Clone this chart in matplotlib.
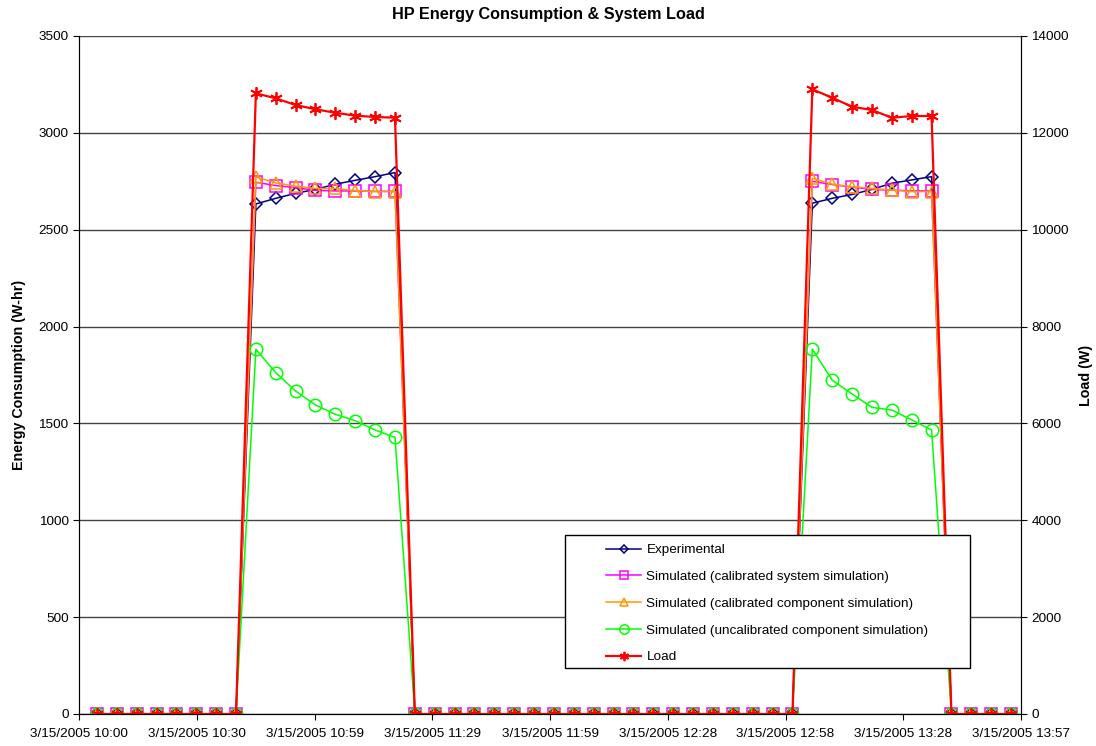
import numpy as np
import matplotlib
matplotlib.use("Agg")
import matplotlib.pyplot as plt
from matplotlib.patches import Rectangle

plt.rcParams["font.family"] = ["Liberation Sans", "DejaVu Sans"]

# sample times in minutes after 10:00, one every 5 minutes
t = 4.5 + 5 * np.arange(47)

tick_labels = ["3/15/2005 10:00", "3/15/2005 10:30", "3/15/2005 10:59",
               "3/15/2005 11:29", "3/15/2005 11:59", "3/15/2005 12:28",
               "3/15/2005 12:58", "3/15/2005 13:28", "3/15/2005 13:57"]

# values while the heat pump runs (two cycles)
exp_on1 = [2633, 2662, 2688, 2708, 2735, 2755, 2774, 2795]
exp_on2 = [2637, 2662, 2682, 2708, 2740, 2757, 2774]
sys_on1 = [2745, 2728, 2717, 2703, 2700, 2700, 2698, 2698]
sys_on2 = [2750, 2733, 2720, 2708, 2704, 2701, 2700]
comp_on1 = [2772, 2742, 2725, 2713, 2713, 2702, 2697, 2697]
comp_on2 = [2766, 2735, 2722, 2713, 2705, 2697, 2697]
uncal_on1 = [1883, 1762, 1667, 1595, 1547, 1514, 1466, 1428]
uncal_on2 = [1884, 1723, 1652, 1583, 1569, 1518, 1466]
load_on1 = [12817, 12713, 12575, 12487, 12415, 12355, 12328, 12313]
load_on2 = [12900, 12725, 12540, 12472, 12313, 12348, 12348]


def series(on1, on2):
    return [0] * 8 + on1 + [0] * 20 + on2 + [0] * 4


experimental = series(exp_on1, exp_on2)
sim_system = series(sys_on1, sys_on2)
sim_component = series(comp_on1, comp_on2)
sim_uncal = series(uncal_on1, uncal_on2)
load = series(load_on1, load_on2)

fig = plt.figure(figsize=(10.96, 7.46), dpi=100)
ax = fig.add_axes([79 / 1096, 1 - 714 / 746, 942 / 1096, 678 / 746])
ax2 = ax.twinx()

lw = 1.1
h1, = ax.plot(t, experimental, color="#000080", lw=lw, marker="D", ms=6,
              mfc="none", mec="#000080", mew=1.1, label="Experimental")
h2, = ax.plot(t, sim_system, color="#FF00FF", lw=lw, marker="s", ms=8,
              mfc="none", mec="#FF00FF", mew=1.1,
              label="Simulated (calibrated system simulation)")
h3, = ax.plot(t, sim_component, color="#FF9900", lw=lw, marker="^", ms=8,
              mfc="none", mec="#FF9900", mew=1.1,
              label="Simulated (calibrated component simulation)")
h4, = ax.plot(t, sim_uncal, color="#00FF00", lw=lw, marker="o", ms=9,
              mfc="none", mec="#00FF00", mew=1.1,
              label="Simulated (uncalibrated component simulation)")
h5, = ax2.plot(t, load, color="#FF0000", lw=1.6, marker=(6, 2, 0), ms=9,
               mec="#FF0000", mew=1.3, label="Load")

ax.set_xlim(0, 237)
ax.set_ylim(0, 3500)
ax2.set_ylim(0, 14000)
ax.set_xticks(np.linspace(0, 237, 9))
ax.set_xticklabels(tick_labels)
ax.set_yticks(np.arange(0, 3501, 500))
ax2.set_yticks(np.arange(0, 14001, 2000))

ax.grid(axis="y", color="#444444", lw=1)
ax.set_axisbelow(True)
for a in (ax, ax2):
    a.spines["top"].set_visible(False)
    a.tick_params(labelsize=9.7, length=4, color="black")
ax.tick_params(axis="x", pad=6)

ax.set_ylabel("Energy Consumption (W-hr)", fontsize=10.3, fontweight="bold", labelpad=9)
ax2.set_ylabel("Load (W)", fontsize=10.3, fontweight="bold", labelpad=7)
fig.suptitle("HP Energy Consumption & System Load", fontsize=11.7, fontweight="bold",
             y=1 - 15 / 746, va="center")

# legend box with wide left margin
x0, y0 = (565 - 79) / 942, (714 - 668) / 678
w, h = (970 - 565) / 942, (668 - 535) / 678
ax2.add_patch(Rectangle((x0, y0), w, h, transform=ax2.transAxes, facecolor="white",
                        edgecolor="black", lw=1, zorder=5))
leg = ax2.legend(handles=[h1, h2, h3, h4, h5], loc="upper left",
                 bbox_to_anchor=((606 - 79) / 942, (714 - 544) / 678),
                 frameon=False, fontsize=9.7, handlelength=2.6, handletextpad=0.4,
                 labelspacing=1.06, borderpad=0, borderaxespad=0, markerscale=0.75)
leg.set_zorder(6)

fig.savefig("out.png", dpi=100)
